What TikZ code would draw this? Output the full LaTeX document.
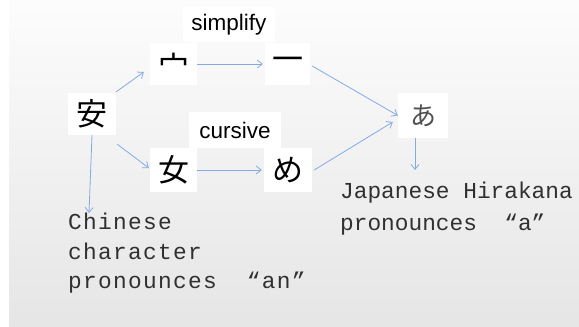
\documentclass[tikz,border=0pt]{standalone}
\usepackage{fontspec}
\setmainfont{Liberation Sans}
\newfontfamily\cjkf{Noto Sans CJK JP}
\newfontfamily\monof{Liberation Mono}
\newfontfamily\monosp{Liberation Mono}[LetterSpace=5.8]
\usetikzlibrary{arrows.meta}
\definecolor{arrowblue}{HTML}{84AAE6}
\definecolor{txtgray}{HTML}{303030}
\definecolor{kanagray}{HTML}{505050}
\tikzset{
 box/.style={fill=white, inner sep=0pt, font=\cjkf\fontsize{31}{31}\selectfont},
 lbl/.style={fill=white, inner sep=0pt, font=\fontsize{22.5}{22.5}\selectfont},
 arr/.style={draw=arrowblue, line width=0.8pt, -{Straight Barb[length=5pt,width=8pt]}},
 desc/.style={anchor=base west, inner sep=0pt, text=txtgray, font=\monof\fontsize{22.8}{22.8}\selectfont},
 descsp/.style={desc, font=\monosp\fontsize{22.8}{22.8}\selectfont},
}
\begin{document}
\begin{tikzpicture}[x=1pt,y=1pt]
\useasboundingbox (0,0) rectangle (579,-327);
\fill[white] (0,0) rectangle (579,-327);
\shade[top color=white!99!black, bottom color=white!90!black] (9,0) rectangle (579,-327);

\node[box, minimum width=48pt, minimum height=42pt] (an) at (92,-114) {安};
\node[box, minimum width=47pt, minimum height=42pt] (ding) at (173.5,-64) {宀};
\node[box, minimum width=45pt, minimum height=42pt] (yi) at (287.5,-64) {一};
\node[box, minimum width=47pt, minimum height=44pt] (nv) at (173.5,-170) {女};
\node[box, minimum width=48pt, minimum height=44pt] (me) at (288,-170) {め};
\node[box, minimum width=50pt, minimum height=45pt, text=kanagray, font=\cjkf\fontsize{26}{26}\selectfont] (a) at (423,-115.5) {あ};

\node[lbl, minimum width=92pt, minimum height=35pt] (simp) at (229,-24.5) {simplify};
\node[lbl, minimum width=92pt, minimum height=36pt] (curs) at (235,-130) {cursive};

\node[descsp] (cn1) at (68,-229) {Chinese};
\node[descsp] (cn2) at (68,-259) {character};
\node[descsp] (cn3) at (68,-288) {pronounces\ \ “an”};
\node[desc] (jp1) at (340,-198) {Japanese Hirakana};
\node[desc] (jp2) at (340,-230) {pronounces\ \ “a”};

\coordinate (cnend) at (89,-213);
\coordinate (jpend) at (415,-170);

\draw[arr] ([yshift=1pt]an.north east) -- ([xshift=-6pt,yshift=-8pt]ding.west);
\draw[arr] (ding.east) -- ([xshift=-2pt]yi.west);
\draw[arr] ([xshift=2pt,yshift=-2pt]yi.east) -- (a.west);
\draw[arr] ([xshift=1pt,yshift=-9pt]an.south east) -- ([xshift=-1pt,yshift=2pt]nv.west);
\draw[arr] (nv.east) -- ([xshift=-2pt]me.west);
\draw[arr] ([xshift=2pt]me.east) -- ([xshift=-5pt,yshift=-6.5pt]a.west);
\draw[arr] ([xshift=-8pt]a.south) -- (jpend);
\draw[arr] (an.south) -- (cnend);
\end{tikzpicture}
\end{document}
